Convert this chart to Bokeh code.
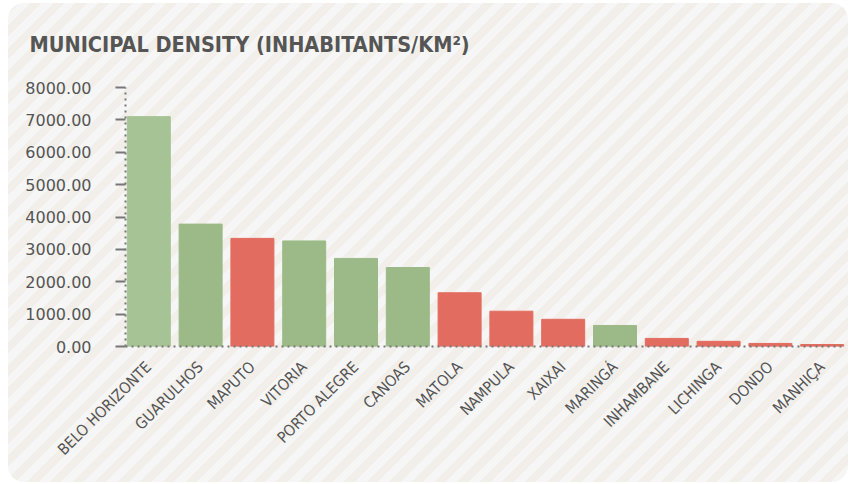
import math
from bokeh.plotting import figure
from bokeh.models import FactorRange, Range1d, FixedTicker, NumeralTickFormatter, ColumnDataSource
from bokeh.embed import file_html
from bokeh.resources import INLINE

cities = ["BELO HORIZONTE", "GUARULHOS", "MAPUTO", "VITORIA", "PORTO ALEGRE", "CANOAS",
          "MATOLA", "NAMPULA", "XAIXAI", "MARINGÁ", "INHAMBANE", "LICHINGA", "DONDO", "MANHIÇA"]
density = [7100, 3780, 3340, 3260, 2720, 2440, 1660, 1090, 840, 650, 250, 160, 95, 60]
country = ["BR", "BR", "MZ", "BR", "BR", "BR", "MZ", "MZ", "MZ", "BR", "MZ", "MZ", "MZ", "MZ"]
y_ticks = [0, 1000, 2000, 3000, 4000, 5000, 6000, 7000, 8000]
title_text = "MUNICIPAL DENSITY (INHABITANTS/KM²)"

palette = {"BR": "#9bba87", "MZ": "#e26c5f"}
colors = [palette[c] for c in country]
colors[0] = "#a6c395"  # highlighted first bar

src = ColumnDataSource(dict(city=cities, density=density, color=colors))

p = figure(
    x_range=FactorRange(*cities, range_padding=-0.05, range_padding_units="absolute"),
    y_range=Range1d(0, 8000),
    width=840, height=479,
    output_backend="svg", toolbar_location=None,
    min_border_left=117, min_border_right=3, min_border_top=0, min_border_bottom=136,
    title=title_text,
)
p.margin = (3, 0, 0, 8)
p.background_fill_color = None
p.border_fill_color = None
p.outline_line_color = None
p.styles = {
    "background": "repeating-linear-gradient(135deg, #f2efea 0px, #f2efea 8px, #f7f6f7 8px, #f7f6f7 16px)",
    "border-radius": "16px",
}

p.title.text_font = "DejaVu Sans Condensed"
p.title.text_font_style = "bold"
p.title.text_font_size = "21.5px"
p.title.text_color = "#555555"
p.title.align = "left"
p.title.vertical_align = "top"
p.title.offset = -96
p.title.standoff = 57

p.vbar(x="city", top="density", width=0.83, color="color", source=src)

p.xgrid.visible = False
p.ygrid.visible = False

ya = p.yaxis[0]
ya.ticker = FixedTicker(ticks=y_ticks)
ya.formatter = NumeralTickFormatter(format="0.00")
ya.axis_line_color = "#777777"
ya.axis_line_width = 2
ya.axis_line_dash = "2 4"
ya.major_tick_out = 10
ya.major_tick_in = 0
ya.major_tick_line_width = 2
ya.major_tick_line_color = "#777777"
ya.minor_tick_line_color = None
ya.major_label_standoff = 24
ya.major_label_text_font = "DejaVu Sans"
ya.major_label_text_font_size = "16px"
ya.major_label_text_color = "#555555"

xa = p.xaxis[0]
xa.axis_line_color = "#777777"
xa.axis_line_width = 2
xa.axis_line_dash = "2 4"
xa.major_tick_line_color = None
xa.minor_tick_line_color = None
xa.major_label_orientation = math.pi / 4
xa.major_label_standoff = 12
xa.major_label_text_font = "DejaVu Sans Condensed"
xa.major_label_text_font_size = "15.5px"
xa.major_label_text_color = "#555555"

open("out.html", "w").write(file_html(p, INLINE))
